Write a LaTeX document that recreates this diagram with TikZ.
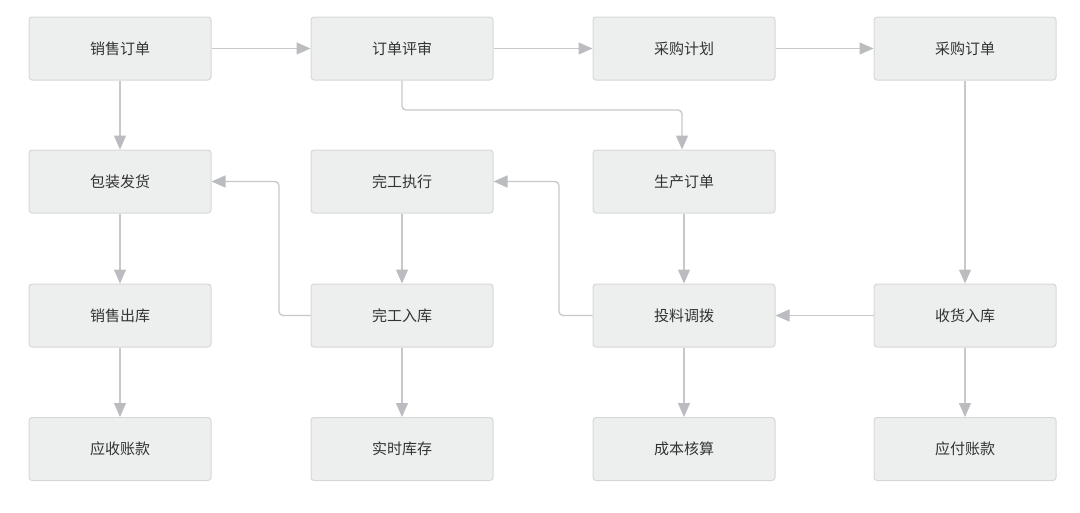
\documentclass[tikz,border=0pt]{standalone}
\usepackage{fontspec}
\newfontfamily\cjk{Noto Sans CJK SC}
\usetikzlibrary{arrows.meta}
\definecolor{boxfill}{HTML}{EDEEEE}
\definecolor{boxline}{HTML}{D6D7D7}
\definecolor{conn}{HTML}{C8C8CA}
\definecolor{tip}{HTML}{BBBCC0}
\definecolor{txt}{HTML}{333333}
\tikzset{
  x=1pt,y=-1pt,
  proc/.style={draw=boxline, fill=boxfill, line width=1pt, rounded corners=3pt,
    minimum width=182pt, minimum height=63pt, inner sep=0pt,
    font=\cjk\fontsize{15}{17}\selectfont, text=txt},
  flow/.style={draw=conn, line width=1.3pt, rounded corners=4pt,
    -{Triangle[length=14pt,width=12pt,color=tip]}}
}
\begin{document}
\begin{tikzpicture}
\useasboundingbox (0,0) rectangle (1080,512);
\node[proc] (xsdd) at (120,48.5) {销售订单};
\node[proc] (ddps) at (402,48.5) {订单评审};
\node[proc] (cgjh) at (684,48.5) {采购计划};
\node[proc] (cgdd) at (965,48.5) {采购订单};
\node[proc] (bzfh) at (120,181.5) {包装发货};
\node[proc] (wgzx) at (402,181.5) {完工执行};
\node[proc] (scdd) at (684,181.5) {生产订单};
\node[proc] (xsck) at (120,315.5) {销售出库};
\node[proc] (wgrk) at (402,315.5) {完工入库};
\node[proc] (tldb) at (684,315.5) {投料调拨};
\node[proc] (shrk) at (965,315.5) {收货入库};
\node[proc] (yszk) at (120,449) {应收账款};
\node[proc] (sskc) at (402,449) {实时库存};
\node[proc] (cbhs) at (684,449) {成本核算};
\node[proc] (yfzk) at (965,449) {应付账款};
\coordinate (c1) at (402,110);
\coordinate (c2) at (682,110);
\coordinate (c3) at (279,315.5);
\coordinate (c4) at (279,181.5);
\coordinate (c5) at (559,315.5);
\coordinate (c6) at (559,181.5);
% horizontal
\draw[flow] (xsdd) -- (ddps);
\draw[flow] (ddps) -- (cgjh);
\draw[flow] (cgjh) -- (cgdd);
\draw[flow] (shrk) -- (tldb);
% vertical
\draw[flow] (xsdd) -- (bzfh);
\draw[flow] (bzfh) -- (xsck);
\draw[flow] (xsck) -- (yszk);
\draw[flow] (wgzx) -- (wgrk);
\draw[flow] (wgrk) -- (sskc);
\draw[flow] (scdd) -- (tldb);
\draw[flow] (tldb) -- (cbhs);
\draw[flow] (cgdd) -- (shrk);
\draw[flow] (shrk) -- (yfzk);
% elbows
\draw[flow] (ddps.south) -- (c1) -- (c2) -- (c2 |- scdd.north);
\draw[flow] (wgrk.west) -- (c3) -- (c4) -- (bzfh.east);
\draw[flow] (tldb.west) -- (c5) -- (c6) -- (wgzx.east);
\end{tikzpicture}
\end{document}
